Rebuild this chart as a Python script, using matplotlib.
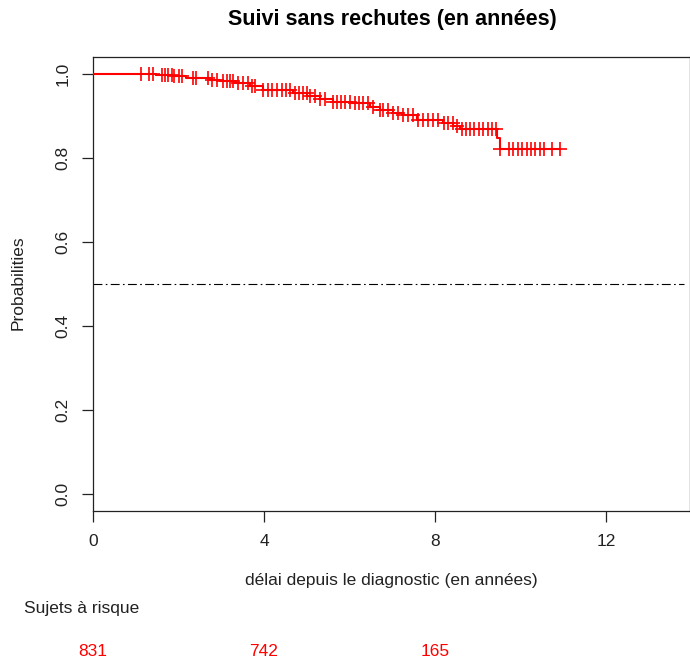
import numpy as np
import matplotlib
matplotlib.use("Agg")
import matplotlib.pyplot as plt
import matplotlib.transforms as mtransforms

plt.rcParams['font.family'] = ['Liberation Sans', 'DejaVu Sans']

# ---- data ----
event_times = [0.0, 1.47, 1.85, 2.18, 2.74, 2.97, 3.32, 3.67, 3.98, 4.68, 5.01,
               5.31, 5.61, 6.06, 6.48, 6.71, 7.02, 7.25, 7.58, 8.19, 8.42, 8.58,
               9.45, 9.51]
survival = [1.0, 0.998, 0.994, 0.990, 0.986, 0.984, 0.979, 0.972, 0.962, 0.954,
            0.946, 0.940, 0.934, 0.931, 0.922, 0.914, 0.907, 0.902, 0.890, 0.884,
            0.876, 0.868, 0.847, 0.821]
end_time = 10.93
censor_times = [1.12, 1.32, 1.40, 1.61, 1.68, 1.76, 1.84, 1.89, 2.01, 2.09, 2.33,
                2.41, 2.70, 2.78, 2.91, 3.03, 3.13, 3.20, 3.28, 3.40, 3.52, 3.63,
                3.71, 3.79, 3.98, 4.10, 4.18, 4.30, 4.41, 4.51, 4.61, 4.73, 4.83,
                4.92, 5.00, 5.08, 5.19, 5.31, 5.43, 5.62, 5.71, 5.79, 5.89, 6.01,
                6.13, 6.23, 6.32, 6.44, 6.56, 6.71, 6.79, 6.91, 7.02, 7.14, 7.26,
                7.38, 7.49, 7.61, 7.73, 7.84, 7.96, 8.08, 8.21, 8.31, 8.41, 8.52,
                8.62, 8.73, 8.82, 8.92, 9.03, 9.13, 9.23, 9.33, 9.42, 9.52, 9.74,
                9.83, 9.93, 10.03, 10.15, 10.24, 10.34, 10.46, 10.56, 10.73, 10.93]
risk_times = [0, 4, 8]
risk_counts = ["831", "742", "165"]
x_ticks = [0, 4, 8, 12]
y_ticks = [0.0, 0.2, 0.4, 0.6, 0.8, 1.0]
median_line = 0.5

title = "Suivi sans rechutes (en années)"
xlabel = "délai depuis le diagnostic (en années)"
ylabel = "Probabilities"
risk_title = "Sujets à risque"

W, H = 690, 663
fig = plt.figure(figsize=(W / 100, H / 100), dpi=100)
ax = fig.add_axes([93 / W, 1 - 510.5 / H, (689.5 - 93) / W, (510.5 - 57) / H])

# step curve
st_x = list(event_times) + [end_time]
st_y = list(survival) + [survival[-1]]
ax.step(st_x, st_y, where='post', color='red', lw=1.5, zorder=3)

# censor marks
et = np.array(event_times)
sv = np.array(survival)
idx = np.searchsorted(et, np.array(censor_times), side='right') - 1
ax.plot(censor_times, sv[idx], linestyle='none', marker='+', color='red',
        markersize=10, markeredgewidth=1.2, zorder=4)

# median reference line
ax.axhline(median_line, xmin=0, xmax=0.99, color='black', lw=0.8,
           linestyle=(0, (8, 3, 1.5, 3)))

ax.set_xlim(0, (689.5 - 93) / 42.75)
ax.set_ylim(-0.04, 1.04)
ax.set_xticks(x_ticks)
ax.set_xticklabels([str(t) for t in x_ticks])
ax.set_yticks(y_ticks)
ax.set_yticklabels([f"{v:.1f}" for v in y_ticks], rotation=90, va='center')
ax.tick_params(axis='both', direction='out', length=8, width=0.9,
               labelsize=12.5, colors='#222222')
ax.tick_params(axis='x', pad=9)
ax.tick_params(axis='y', pad=8)
for s in ax.spines.values():
    s.set_linewidth(0.9)
    s.set_color('#222222')

fig.text(392 / W, 1 - 19 / H, title, ha='center', va='center',
         fontsize=15.5, fontweight='bold')
fig.text(391 / W, 1 - 581 / H, xlabel, ha='center', va='center', fontsize=12.5,
         color='#222222')
fig.text(18 / W, 1 - 283 / H, ylabel, ha='center', va='center', fontsize=12.5,
         rotation=90, color='#222222')
fig.text(24 / W, 1 - 608 / H, risk_title, ha='left', va='center', fontsize=12.5,
         color='#222222')

trans = mtransforms.blended_transform_factory(ax.transData, fig.transFigure)
for t, n in zip(risk_times, risk_counts):
    fig.text(t, 1 - 651 / H, n, transform=trans, ha='center', va='center',
             fontsize=12.5, color='red')

fig.savefig("out.png", dpi=100)
